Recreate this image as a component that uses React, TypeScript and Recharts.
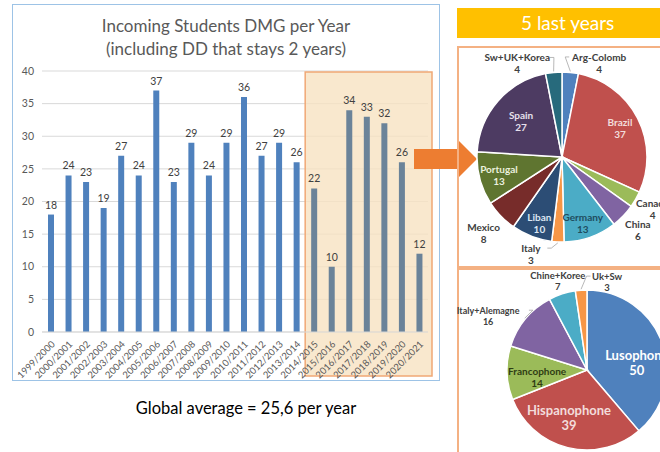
import {
  Bar,
  BarChart,
  CartesianGrid,
  Cell,
  LabelList,
  Pie,
  PieChart,
  ReferenceArea,
  XAxis,
  YAxis,
} from "recharts";

const years = [
  "1999/2000", "2000/2001", "2001/2002", "2002/2003", "2003/2004", "2004/2005",
  "2005/2006", "2006/2007", "2007/2008", "2008/2009", "2009/2010", "2010/2011",
  "2011/2012", "2012/2013", "2013/2014", "2014/2015", "2015/2016", "2016/2017",
  "2017/2018", "2018/2019", "2019/2020", "2020/2021",
];
const students = [18, 24, 23, 19, 27, 24, 37, 23, 29, 24, 29, 36, 27, 29, 26, 22, 10, 34, 33, 32, 26, 12];
const yTicks = [0, 5, 10, 15, 20, 25, 30, 35, 40];
const highlightFrom = "2014/2015";

const countryNames = ["Arg-Colomb", "Brazil", "Canada", "China", "Germany", "Italy", "Liban", "Mexico", "Portugal", "Spain", "Sw+UK+Korea"];
const countryValues = [4, 37, 4, 6, 13, 3, 10, 8, 13, 27, 4];
const countryColors = ["#4f81bd", "#c0504d", "#9bbb59", "#8064a2", "#4bacc6", "#f79646", "#2c4d75", "#772c2a", "#5f7530", "#4d3b62", "#276a7c"];

const groupNames = ["Lusophone", "Hispanophone", "Francophone", "Italy+Alemagne", "Chine+Koree", "Uk+Sw"];
const groupValues = [50, 39, 14, 16, 7, 3];
const groupColors = ["#4f81bd", "#c0504d", "#9bbb59", "#8064a2", "#4bacc6", "#f79646"];

// label placement (radius factor, clockwise shift in degrees), text colour, size
const countryLabels = [
  { r: 1.19, shift: 16, fill: "#404040", size: 10, leader: true },
  { r: 0.76, shift: 1, fill: "#f2dcdb", size: 10 },
  { r: 1.23, shift: 0, fill: "#404040", size: 10 },
  { r: 1.24, shift: 0, fill: "#404040", size: 10 },
  { r: 0.81, shift: 2, fill: "#1f4e5f", size: 10 },
  { r: 1.2, shift: 15, fill: "#404040", size: 10, leader: true },
  { r: 0.82, shift: -2, fill: "#dce6f2", size: 10 },
  { r: 1.28, shift: 0, fill: "#404040", size: 10 },
  { r: 0.77, shift: -1, fill: "#ebf1de", size: 10 },
  { r: 0.64, shift: 0, fill: "#e6e0ec", size: 10 },
  { r: 1.22, shift: -20, fill: "#404040", size: 10, leader: true },
];
const groupLabels = [
  { r: 0.63, shift: 12, fill: "#ffffff", size: 13 },
  { r: 0.63, shift: 7, fill: "#f2dcdb", size: 13 },
  { r: 0.63, shift: -6, fill: "#2f3d14", size: 10 },
  { r: 1.41, shift: -11, fill: "#404040", size: 9, leader: true },
  { r: 1.17, shift: 0, fill: "#404040", size: 9.5 },
  { r: 1.13, shift: 17, fill: "#404040", size: 9.5, leader: true },
];

const font = "Lato, 'Open Sans', sans-serif";
const RAD = Math.PI / 180;
const noMargin = { top: 0, right: 0, bottom: 0, left: 0 };

const barData = years.map((y, i) => ({ name: y, value: students[i] }));
const countryData = countryNames.map((n, i) => ({ name: n, value: countryValues[i] }));
const groupData = groupNames.map((n, i) => ({ name: n, value: groupValues[i] }));
const hiIndex = years.indexOf(highlightFrom);

function Overlay(props: any) {
  const { x, y, width, height } = props;
  return (
    <rect
      x={x}
      y={y + 1}
      width={width + 4}
      height={height + 43}
      fill="#f8e2c2"
      fillOpacity={0.8}
      stroke="#f0a875"
      strokeWidth={1.5}
    />
  );
}

function makeLabel(cfg: any[]) {
  return (props: any) => {
    const { cx, cy, midAngle, outerRadius, index, name, value } = props;
    const c = cfg[index];
    const a = (midAngle - c.shift) * RAD;
    const lx = cx + outerRadius * c.r * Math.cos(a);
    const ly = cy - outerRadius * c.r * Math.sin(a);
    const gap = c.size + 2;
    let leader = null;
    if (c.leader) {
      const m = midAngle * RAD;
      const px = cx + (outerRadius + 1) * Math.cos(m);
      const py = cy - (outerRadius + 1) * Math.sin(m);
      const side = px > lx ? 1 : -1;
      const qx = lx + side * (String(name).length * 2.7 + 3);
      const qy = ly - gap / 2;
      leader = (
        <polyline
          points={`${qx},${qy} ${qx + side * 4},${qy} ${px},${py}`}
          fill="none"
          stroke="#a6a6a6"
          strokeWidth={0.8}
        />
      );
    }
    return (
      <g>
        {leader}
        <text
          x={lx}
          y={ly}
          textAnchor="middle"
          fill={c.fill}
          fontSize={c.size}
          fontWeight={700}
          fontFamily={font}
        >
          <tspan x={lx} y={ly - gap / 2} dominantBaseline="central">{name}</tspan>
          <tspan x={lx} y={ly + gap / 2} dominantBaseline="central">{value}</tspan>
        </text>
      </g>
    );
  };
}

export default function App() {
  return (
    <div
      style={{
        position: "absolute",
        left: 0,
        top: 0,
        width: 660,
        height: 452,
        overflow: "hidden",
        background: "#fff",
        fontFamily: font,
      }}
    >
      <div
        style={{
          position: "absolute",
          left: 12,
          top: 4,
          width: 428,
          height: 377,
          border: "1px solid #9dc3e6",
          boxSizing: "border-box",
        }}
      >
        <BarChart
          width={426}
          height={375}
          data={barData}
          margin={{ top: 66, right: 11, left: 0, bottom: 0 }}
        >
          <CartesianGrid stroke="#d9d9d9" vertical={false} />
          <ReferenceArea
            x1={highlightFrom}
            x2={years[years.length - 1]}
            y1={0}
            y2={40}
            ifOverflow="visible"
            shape={Overlay}
            zIndex={-90}
          />
          <XAxis
            dataKey="name"
            interval={0}
            height={48}
            angle={-45}
            textAnchor="end"
            tickLine={false}
            axisLine={{ stroke: "#d9d9d9" }}
            tick={{ fontSize: 9.5, fill: "#595959", fontFamily: font }}
          />
          <YAxis
            width={29}
            domain={[0, 40]}
            ticks={yTicks}
            tickLine={false}
            axisLine={false}
            tick={{ fontSize: 10.5, fill: "#595959", fontFamily: font }}
          />
          <Bar dataKey="value" barSize={6} isAnimationActive={false}>
            {barData.map((_, i) => (
              <Cell key={i} fill={i >= hiIndex ? "#6b8399" : "#4f81bd"} />
            ))}
            <LabelList dataKey="value" position="top" offset={6} fill="#404040" fontSize={10.5} fontFamily={font} />
          </Bar>
        </BarChart>
        <div
          style={{
            position: "absolute",
            left: 0,
            top: 9,
            width: "100%",
            textAlign: "center",
            fontSize: 17,
            lineHeight: "23px",
            color: "#595959",
          }}
        >
          Incoming Students DMG per Year
          <br />
          (including DD that stays 2 years)
        </div>
      </div>

      <div
        style={{
          position: "absolute",
          left: 0,
          top: 398,
          width: 492,
          textAlign: "center",
          fontSize: 16.5,
          lineHeight: "20px",
          color: "#000",
        }}
      >
        Global average = 25,6 per year
      </div>

      <svg width={660} height={452} style={{ position: "absolute", left: 0, top: 0 }}>
        <polygon
          points="414,149 457,149 457,139 477,159 457,179 457,169 414,169"
          fill="#ed7d31"
        />
      </svg>

      <div
        style={{
          position: "absolute",
          left: 457,
          top: 8,
          width: 230,
          height: 30,
          background: "#ffc000",
          color: "#fff",
          fontSize: 19,
          lineHeight: "30px",
          textAlign: "left",
          paddingLeft: 64,
          boxSizing: "border-box",
        }}
      >
        5 last years
      </div>

      <div
        style={{
          position: "absolute",
          left: 457,
          top: 46,
          width: 230,
          height: 222,
          border: "2px solid #f4b183",
          boxSizing: "border-box",
        }}
      />
      <div
        style={{
          position: "absolute",
          left: 457,
          top: 268,
          width: 230,
          height: 200,
          border: "2px solid #f4b183",
          boxSizing: "border-box",
        }}
      />

      <div style={{ position: "absolute", left: 447, top: 46 }}>
        <PieChart width={240} height={222} margin={noMargin}>
          <Pie
            data={countryData}
            dataKey="value"
            nameKey="name"
            cx={115}
            cy={111}
            outerRadius={85}
            startAngle={90}
            endAngle={-270}
            stroke="#fff"
            strokeWidth={1.5}
            label={makeLabel(countryLabels)}
            labelLine={false}
            isAnimationActive={false}
          >
            {countryData.map((_, i) => (
              <Cell key={i} fill={countryColors[i]} />
            ))}
          </Pie>
        </PieChart>
      </div>

      <div style={{ position: "absolute", left: 447, top: 268 }}>
        <PieChart width={240} height={200} margin={noMargin}>
          <Pie
            data={groupData}
            dataKey="value"
            nameKey="name"
            cx={140}
            cy={102}
            outerRadius={80}
            startAngle={90}
            endAngle={-270}
            stroke="#fff"
            strokeWidth={1.5}
            label={makeLabel(groupLabels)}
            labelLine={false}
            isAnimationActive={false}
          >
            {groupData.map((_, i) => (
              <Cell key={i} fill={groupColors[i]} />
            ))}
          </Pie>
        </PieChart>
      </div>
    </div>
  );
}
